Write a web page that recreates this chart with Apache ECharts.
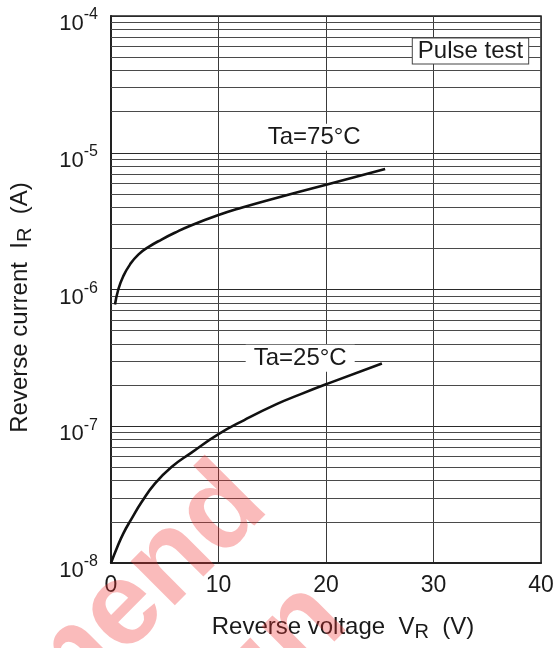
<!DOCTYPE html>
<html>
<head>
<meta charset="utf-8">
<script src="https://cdn.jsdelivr.net/npm/echarts@6/dist/echarts.min.js"></script>
<style>
html,body{margin:0;padding:0;background:#fff;}
#chart{width:560px;height:648px;}
</style>
</head>
<body>
<div id="chart"></div>
<script>
// ---- data ----
const xTicks = [0, 10, 20, 30, 40];
const yDecades = [1e-8, 1e-7, 1e-6, 1e-5, 1e-4];
const minorGridValues = [
  2e-8, 3e-8, 4e-8, 5e-8, 6e-8, 7e-8, 8e-8, 9e-8,
  2e-7, 3e-7, 4e-7, 5e-7, 6e-7, 7e-7, 8e-7, 9e-7,
  2e-6, 3e-6, 4e-6, 5e-6, 6e-6, 7e-6, 8e-6, 9e-6,
  2e-5, 3e-5, 4e-5, 5e-5, 6e-5, 7e-5, 8e-5, 9e-5
];
const vr75 = [0.37, 0.68, 1.14, 1.76, 2.54, 3.47, 4.7, 5.94, 7.49, 10.0, 12.13, 14.6, 20.1, 25.5];
const ir75 = [7.77e-7, 1.0e-6, 1.25e-6, 1.52e-6, 1.80e-6, 2.04e-6, 2.32e-6, 2.60e-6, 2.95e-6, 3.50e-6, 3.96e-6, 4.50e-6, 5.86e-6, 7.62e-6];
const vr25 = [0.0, 0.52, 1.14, 1.92, 2.85, 4.08, 5.63, 7.49, 10.0, 12.4, 15.4, 17.6, 20.1, 25.2];
const ir25 = [1.0e-8, 1.27e-8, 1.64e-8, 2.11e-8, 2.79e-8, 3.81e-8, 5.04e-8, 6.42e-8, 8.75e-8, 1.11e-7, 1.45e-7, 1.71e-7, 2.04e-7, 2.88e-7];
const label75 = 'Ta=75°C';
const label25 = 'Ta=25°C';
const label75Pos = [18.9, 1.30e-5];
const label25Pos = [17.6, 3.14e-7];
const noteText = 'Pulse test';
const notePos = [33.44, 5.54e-5];

const FONT = '"Liberation Sans", Arial, sans-serif';
const chart = echarts.init(document.getElementById('chart'), null, {renderer: 'canvas'});

const pair = (xs, ys) => xs.map((x, i) => [x, ys[i]]);
const xMin = xTicks[0], xMax = xTicks[xTicks.length - 1];

const textLabel = (txt, pos, labelExtra) => ({
  coord: pos,
  value: txt,
  symbol: 'rect',
  symbolSize: 0,
  label: Object.assign({
    show: true,
    position: 'inside',
    formatter: txt,
    fontFamily: FONT,
    fontSize: 24,
    lineHeight: 27,
    color: '#1a1a1a',
    backgroundColor: '#ffffff',
    padding: [0, 8, 0, 8]
  }, labelExtra || {})
});

const option = {
  animation: false,
  backgroundColor: '#ffffff',
  textStyle: {fontFamily: FONT},
  grid: {
    left: 111, right: 19, top: 16, bottom: 85,
    show: true, borderColor: '#222', borderWidth: 1.5, backgroundColor: 'transparent'
  },
  xAxis: {
    type: 'value',
    min: xMin, max: xMax, interval: 10,
    axisLine: {show: true, onZero: false, lineStyle: {color: '#222', width: 2}},
    axisTick: {show: false},
    splitLine: {show: true, lineStyle: {color: '#3a3a3a', width: 1}},
    axisLabel: {fontFamily: FONT, fontSize: 23, color: '#1a1a1a', margin: 11},
    name: 'Reverse voltage  V{sub|R}  (V)',
    nameLocation: 'middle',
    nameGap: 50,
    nameTextStyle: {
      fontFamily: FONT, fontSize: 24, color: '#1a1a1a', padding: [0, 0, 0, 34],
      rich: {sub: {fontFamily: FONT, fontSize: 20, color: '#1a1a1a', verticalAlign: 'bottom', padding: [9, 0, 0, 0]}}
    }
  },
  yAxis: {
    type: 'log', logBase: 10,
    min: yDecades[0], max: yDecades[yDecades.length - 1],
    splitNumber: 4,
    axisLine: {show: true, lineStyle: {color: '#222', width: 2}},
    axisTick: {show: false},
    minorTick: {show: false},
    splitLine: {show: true, lineStyle: {color: '#2a2a2a', width: 1}},
    axisLabel: {
      margin: 13,
      formatter: v => '{b|10}{s|' + Math.round(Math.log10(v)) + '}',
      padding: [10, 0, 0, 0],
      rich: {
        b: {fontFamily: FONT, fontSize: 22, color: '#1a1a1a', lineHeight: 28, verticalAlign: 'bottom'},
        s: {fontFamily: FONT, fontSize: 16, color: '#1a1a1a', lineHeight: 15, verticalAlign: 'top'}
      }
    },
    name: 'Reverse current  I{sub|R}  (A)',
    nameLocation: 'middle',
    nameGap: 76,
    nameRotate: 90,
    nameTextStyle: {
      fontFamily: FONT, fontSize: 24, color: '#1a1a1a', padding: [0, 36, 0, 0],
      rich: {sub: {fontFamily: FONT, fontSize: 20, color: '#1a1a1a', verticalAlign: 'bottom', padding: [9, 0, 0, 0]}}
    }
  },
  series: [
    {
      name: 'minor grid',
      type: 'lines',
      coordinateSystem: 'cartesian2d',
      silent: true,
      z: 1,
      lineStyle: {color: '#4a4a4a', width: 1, opacity: 1, curveness: 0},
      data: minorGridValues.map(v => ({coords: [[xMin, v], [xMax, v]]}))
    },
    {
      name: label75,
      type: 'line',
      data: pair(vr75, ir75),
      smooth: 0.5,
      showSymbol: false,
      z: 5,
      lineStyle: {color: '#111', width: 2.6},
      markPoint: {
        silent: true,
        data: [textLabel(label75, label75Pos)]
      }
    },
    {
      name: label25,
      type: 'line',
      data: pair(vr25, ir25),
      smooth: 0.5,
      showSymbol: false,
      z: 5,
      lineStyle: {color: '#111', width: 2.6},
      markPoint: {
        silent: true,
        data: [
          textLabel(label25, label25Pos),
          textLabel(noteText, notePos, {
            borderColor: '#444', borderWidth: 1,
            padding: [0, 5, 0, 5], lineHeight: 25
          })
        ]
      }
    }
  ],
  graphic: [
    {
      type: 'text', z: 100, silent: true,
      x: 248, y: 486, rotation: Math.PI / 4,
      style: {
        text: 'Not Recommend', fill: 'rgba(240,50,50,0.33)',
        font: 'bold 118px ' + FONT, align: 'right', verticalAlign: 'middle'
      }
    },
    {
      type: 'text', z: 100, silent: true,
      x: 328, y: 602, rotation: Math.PI / 4,
      style: {
        text: 'for New Design', fill: 'rgba(240,50,50,0.33)',
        font: 'bold 118px ' + FONT, align: 'right', verticalAlign: 'middle'
      }
    }
  ]
};
chart.setOption(option);
</script>
</body>
</html>
